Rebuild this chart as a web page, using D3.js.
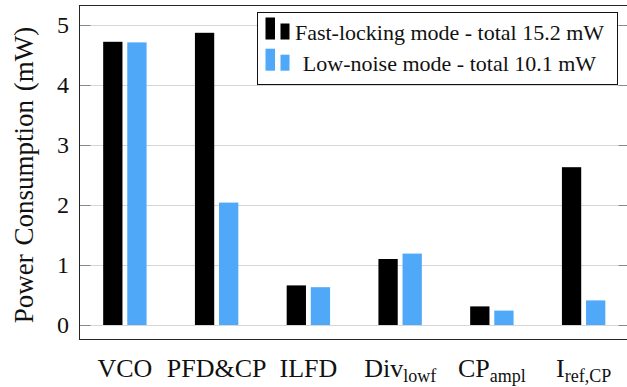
<!DOCTYPE html>
<html>
<head>
<meta charset="utf-8">
<script src="https://cdn.jsdelivr.net/npm/d3@7"></script>
<style>
  html, body { margin: 0; padding: 0; background: #fff; }
  svg { display: block; font-family: "Liberation Serif", "Times New Roman", serif; }
</style>
</head>
<body>
<svg id="chart" width="627" height="387"></svg>
<script>
// Block power breakdown for the two PLL operating modes (mW)
const categories = [
  { main: "VCO", sub: "" },
  { main: "PFD&CP", sub: "" },
  { main: "ILFD", sub: "" },
  { main: "Div", sub: "lowf" },
  { main: "CP", sub: "ampl" },
  { main: "I", sub: "ref,CP" }
];
const fastLocking = [4.72, 4.87, 0.66, 1.10, 0.31, 2.63];
const lowNoise    = [4.71, 2.04, 0.63, 1.19, 0.24, 0.41];
const seriesNames = ["Fast-locking mode - total 15.2 mW", "Low-noise mode - total 10.1 mW"];
const seriesColors = ["#000000", "#4fa8f8"];
const yTicks = [0, 1, 2, 3, 4, 5];
const yLabel = "Power Consumption (mW)";

const svg = d3.select("#chart");
const frame = { left: 79.5, right: 627.5, top: 5.5, bottom: 339.5 };

const y = d3.scaleLinear().domain([0, 5]).range([325, 25]);
const x = d3.scaleBand().domain(d3.range(categories.length)).range([79, 629.5]);
const xSub = d3.scaleBand().domain([0, 1]).range([-21.7, 21.7]).paddingInner(0.2);

// grid lines
svg.append("g").selectAll("line").data(yTicks).join("line")
  .attr("x1", frame.left).attr("x2", frame.right)
  .attr("y1", d => Math.round(y(d)) + 0.5).attr("y2", d => Math.round(y(d)) + 0.5)
  .attr("stroke", "#d6d6d6").attr("stroke-width", 1);

// tick marks on both sides
const tickG = svg.append("g");
tickG.selectAll("line.l").data(yTicks).join("line").attr("class", "l")
  .attr("x1", frame.left).attr("x2", frame.left + 11)
  .attr("y1", d => Math.round(y(d)) + 0.5).attr("y2", d => Math.round(y(d)) + 0.5)
  .attr("stroke", "#8a8a8a");
tickG.selectAll("line.r").data(yTicks).join("line").attr("class", "r")
  .attr("x1", frame.right - 9).attr("x2", frame.right)
  .attr("y1", d => Math.round(y(d)) + 0.5).attr("y2", d => Math.round(y(d)) + 0.5)
  .attr("stroke", "#8a8a8a");

// bars
const series = [fastLocking, lowNoise];
series.forEach((vals, s) => {
  svg.append("g").selectAll("rect").data(vals).join("rect")
    .attr("x", (d, i) => x(i) + x.bandwidth() / 2 + xSub(s))
    .attr("width", xSub.bandwidth())
    .attr("y", d => y(d))
    .attr("height", d => y(0) - y(d))
    .attr("fill", seriesColors[s]);
});

// frame
svg.append("rect")
  .attr("x", frame.left).attr("y", frame.top)
  .attr("width", frame.right - frame.left).attr("height", frame.bottom - frame.top)
  .attr("fill", "none").attr("stroke", "#262626").attr("stroke-width", 1);

// y tick labels
svg.append("g").selectAll("text").data(yTicks).join("text")
  .attr("x", 69).attr("y", d => y(d)).attr("dy", "0.35em")
  .attr("text-anchor", "end").attr("font-size", 24).attr("fill", "#111")
  .text(d => d);

// y axis title
svg.append("text")
  .attr("transform", "translate(33,175) rotate(-90)")
  .attr("text-anchor", "middle").attr("font-size", 27).attr("fill", "#111")
  .attr("word-spacing", 2)
  .text(yLabel);

// category labels with subscripts
const catText = svg.append("g").selectAll("text").data(categories).join("text")
  .attr("x", (d, i) => x(i) + x.bandwidth() / 2).attr("y", 377)
  .attr("text-anchor", "middle").attr("font-size", 26).attr("fill", "#111");
catText.append("tspan").text(d => d.main);
catText.filter(d => d.sub).append("tspan")
  .attr("font-size", 18).attr("dy", 5).text(d => d.sub);

// legend
const legend = svg.append("g");
legend.append("rect")
  .attr("x", 257.5).attr("y", 12.5).attr("width", 360).attr("height", 72)
  .attr("fill", "#fff").attr("stroke", "#111").attr("stroke-width", 1);
const rowBase = [39.5, 70.7];
seriesNames.forEach((name, s) => {
  const g = legend.append("g");
  g.append("rect").attr("x", 265.5).attr("width", 9.5)
    .attr("y", rowBase[s] - 22).attr("height", 22).attr("fill", seriesColors[s]);
  g.append("rect").attr("x", 280.5).attr("width", 9)
    .attr("y", rowBase[s] - 16).attr("height", 16).attr("fill", seriesColors[s]);
  g.append("text").attr("x", 449.5).attr("y", rowBase[s])
    .attr("text-anchor", "middle").attr("font-size", 22).attr("fill", "#111")
    .text(name);
});
</script>
</body>
</html>
